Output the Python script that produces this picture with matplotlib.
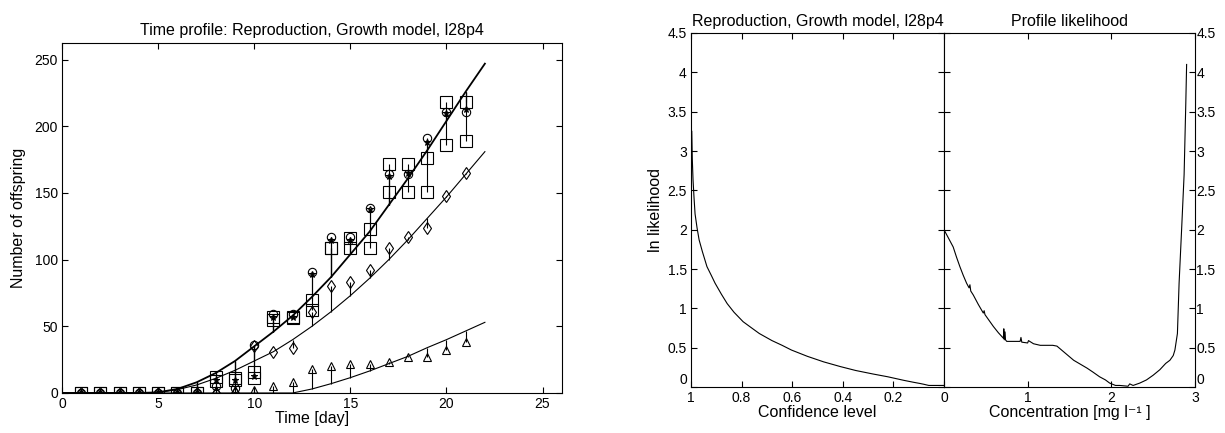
import numpy as np
import matplotlib.pyplot as plt

plt.rcParams['font.family'] = ['Liberation Sans', 'DejaVu Sans']
plt.rcParams['font.size'] = 10
LABEL_SIZE = 11.5

# ---- left chart: time profile ----
days = np.arange(1, 22)
model_days = np.arange(0, 23)

# fitted curves, read at whole days 0..22
fit_upper = [0, 0, 0, 0, 0, 0.5, 3, 8, 15, 24, 35, 46, 58, 72, 87, 104, 121, 141, 161, 182, 204, 226, 247]
fit_middle = [0, 0, 0, 0, 0, 0.5, 2.5, 6, 11, 17, 24, 31, 40, 50, 61, 73, 86, 100, 115, 131, 147, 164, 181]
fit_lower = [0, 0, 0, 0, 0, 0, 0, 0, 0, 0, 0, 0, 0, 3, 7, 11.5, 16.5, 22, 27.5, 34, 40, 46.5, 53]

# observations (days 1..21)
star_up = [0]*7 + [10, 10, 13, 57, 57, 89, 115, 115, 138, 163, 165, 188, 210, 213]
circ_up = [0]*7 + [5, 4, 36, 59, 59, 91, 117, 117, 139, 164, 164, 191, 211, 211]
sq_a = [0]*7 + [12, 11, 16, 55, 56, 70, 109, 116, 123, 172, 172, 176, 218, 218]
sq_b = [0]*7 + [9, 10, 11, 57, 57, 62, 109, 109, 109, 151, 151, 151, 186, 189]
dia_mid = [0]*7 + [0, 0, 35, 31, 34, 61, 80, 83, 92, 109, 117, 124, 148, 165]
tri_low = [0]*7 + [2, 2, 2, 5, 8, 18, 20, 22, 22, 23, 27, 27, 32, 38]

# ---- right chart: profile likelihood ----
conf = [0.997, 0.995, 0.992, 0.988, 0.984, 0.976, 0.968, 0.955, 0.937, 0.92, 0.905, 0.88,
        0.857, 0.83, 0.794, 0.76, 0.73, 0.68, 0.64, 0.603, 0.54, 0.476, 0.41, 0.349,
        0.28, 0.222, 0.159, 0.12, 0.095, 0.08, 0.06, 0.0]
lnlik_conf = [3.25, 2.9, 2.63, 2.4, 2.2, 2.02, 1.87, 1.72, 1.53, 1.42, 1.32, 1.18,
              1.06, 0.95, 0.83, 0.75, 0.68, 0.59, 0.53, 0.47, 0.39, 0.32, 0.26, 0.21,
              0.165, 0.13, 0.085, 0.06, 0.045, 0.035, 0.02, 0.02]

conc = [0.0, 0.05, 0.11, 0.15, 0.19, 0.23, 0.27, 0.30, 0.31, 0.32, 0.35, 0.41, 0.47, 0.48,
        0.49, 0.53, 0.59, 0.65, 0.71, 0.715, 0.72, 0.73, 0.735, 0.75, 0.85, 0.91, 0.92,
        0.93, 1.0, 1.01, 1.07, 1.15, 1.23, 1.30, 1.35, 1.45, 1.55, 1.63, 1.71, 1.78,
        1.86, 1.93, 1.98, 2.05, 2.10, 2.20, 2.22, 2.26, 2.34, 2.42, 2.50, 2.58, 2.65,
        2.70, 2.74, 2.76, 2.79, 2.81, 2.84, 2.87, 2.89, 2.90]
lnlik_conc = [2.0, 1.9, 1.78, 1.65, 1.53, 1.42, 1.32, 1.26, 1.3, 1.22, 1.17, 1.05, 0.94,
              0.97, 0.92, 0.86, 0.77, 0.69, 0.62, 0.74, 0.6, 0.7, 0.6, 0.58, 0.58, 0.58,
              0.63, 0.57, 0.56, 0.59, 0.55, 0.53, 0.53, 0.53, 0.52, 0.43, 0.34, 0.29,
              0.24, 0.19, 0.13, 0.09, 0.05, 0.02, 0.02, 0.01, 0.04, 0.02, 0.05, 0.09,
              0.15, 0.22, 0.3, 0.34, 0.4, 0.47, 0.68, 1.32, 2.0, 2.7, 3.6, 4.1]

lnlik_ticks = np.arange(0, 4.51, 0.5)
lnlik_labels = ['0', '0.5', '1', '1.5', '2', '2.5', '3', '3.5', '4', '4.5']


def matlab_ticks(ax):
    ax.tick_params(direction='in', top=True, right=True, length=4, width=0.8, pad=3,
                   labelsize=10)
    for s in ax.spines.values():
        s.set_linewidth(0.8)


fig = plt.figure(figsize=(12.25, 4.33), dpi=100)

ax = fig.add_axes([0.0506, 0.0924, 0.408, 0.8083])
ax.plot(model_days, fit_upper, 'k-', lw=1.3)
ax.plot(model_days, fit_middle, 'k-', lw=0.8)
ax.plot(model_days, fit_lower, 'k-', lw=0.8)

groups = [(circ_up, fit_upper, 'o', 6), (star_up, fit_upper, '*', 5),
          (sq_a, fit_upper, 's', 8), (sq_b, fit_upper, 's', 8),
          (dia_mid, fit_middle, 'd', 6), (tri_low, fit_lower, '^', 6)]
for obs, fit, mk, ms in groups:
    obs = np.array(obs, dtype=float)
    at_day = np.array(fit)[days]
    ax.vlines(days, obs, at_day, colors='k', lw=0.8)
    ax.plot(days, obs, mk, ms=ms, mfc='none', mec='k', mew=0.8)

ax.set_xlim(0, 26)
ax.set_ylim(0, 262.5)
ax.set_xticks(np.arange(0, 26, 5))
ax.set_yticks(np.arange(0, 251, 50))
ax.set_title("Time profile: Reproduction, Growth model, l28p4", fontsize=LABEL_SIZE, pad=6)
ax.set_xlabel("Time [day]", fontsize=LABEL_SIZE, labelpad=0)
ax.set_ylabel("Number of offspring", fontsize=LABEL_SIZE, labelpad=6)
matlab_ticks(ax)

# confidence level panel
ax1 = fig.add_axes([0.5641, 0.1062, 0.2065, 0.8176])
ax1.plot(conf, lnlik_conf, 'k-', lw=0.8)
ax1.set_xlim(1, 0)
ax1.set_ylim(0, 4.5)
ax1.set_xticks([1, 0.8, 0.6, 0.4, 0.2])
ax1.set_xticklabels(['1', '0.8', '0.6', '0.4', '0.2'])
ax1.set_yticks(lnlik_ticks)
ax1.set_yticklabels(lnlik_labels)
ax1.set_title("Reproduction, Growth model, l28p4", fontsize=LABEL_SIZE, pad=5)
ax1.set_xlabel("Confidence level", fontsize=LABEL_SIZE, labelpad=0)
ax1.set_ylabel("ln likelihood", fontsize=LABEL_SIZE, labelpad=3)
matlab_ticks(ax1)
ax1.get_yticklabels()[0].set_va('bottom')

# concentration panel
ax2 = fig.add_axes([0.7706, 0.1062, 0.2049, 0.8176])
ax2.plot(conc, lnlik_conc, 'k-', lw=0.8)
ax2.set_xlim(0, 3)
ax2.set_ylim(0, 4.5)
ax2.set_xticks([0, 1, 2, 3])
ax2.set_yticks(lnlik_ticks)
ax2.set_yticklabels(lnlik_labels)
ax2.set_title("Profile likelihood", fontsize=LABEL_SIZE, pad=5)
ax2.set_xlabel("Concentration [mg l\u207b\u00b9 ]", fontsize=LABEL_SIZE, labelpad=0)
matlab_ticks(ax2)
ax2.tick_params(axis='y', labelleft=False, labelright=True, pad=1)
ax2.get_yticklabels()[0].set_va('bottom')

fig.savefig("out.png", dpi=100)
